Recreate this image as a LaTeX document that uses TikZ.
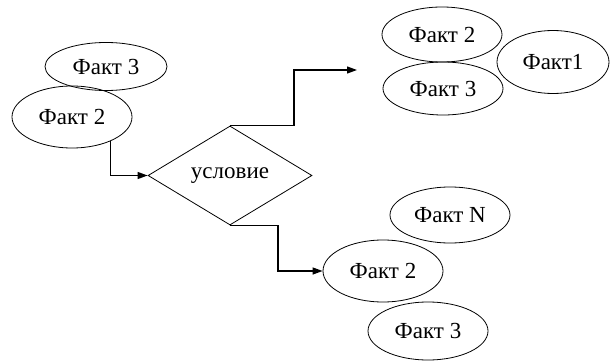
\documentclass[tikz,border=0pt]{standalone}
\usepackage{fontspec}
\setmainfont{Liberation Serif}
\usetikzlibrary{shapes.geometric,arrows.meta}
\begin{document}
\begin{tikzpicture}[x=1pt,y=-1pt,
  fact/.style={draw, ellipse, line width=0.8pt, inner sep=0pt, minimum width=120pt, font=\fontsize{23}{27}\selectfont},
  cond/.style={draw, diamond, line width=0.8pt, inner sep=0pt, minimum width=164pt, minimum height=99pt, font=\fontsize{23}{27}\selectfont},
  arr/.style={line width=1.2pt, -{Triangle[length=10pt,width=7pt]}}]
\useasboundingbox (0,0) rectangle (610,361);
\node[fact, minimum width=122pt, minimum height=48pt] (f3a) at (106,66.5) {Факт 3};
\node[fact, minimum height=62pt] (f2a) at (72,117) {Факт 2};
\node[cond] (d) at (230,175.5) {условие};
\node[fact, minimum height=55pt] (f2b) at (442,34.5) {Факт 2};
\node[fact, minimum height=53pt] (f3b) at (443,88.5) {Факт 3};
\node[fact, minimum width=112pt, minimum height=63pt] (f1) at (553,62) {Факт1};
\node[fact, minimum height=56pt] (fN) at (450,215) {Факт N};
\node[fact, minimum height=62pt] (f2c) at (383,271) {Факт 2};
\node[fact, minimum height=58pt] (f3c) at (428,331) {Факт 3};
\coordinate (tc) at (294,70);
\coordinate (ta) at (357,70);
\coordinate (bc) at (278,271);
\draw[arr] (f2a.-32) |- (d.west);
\draw[arr] (d.north) -| (tc) -- (ta);
\draw[arr] (d.south) -| (bc) -- (f2c.west);
\end{tikzpicture}
\end{document}
